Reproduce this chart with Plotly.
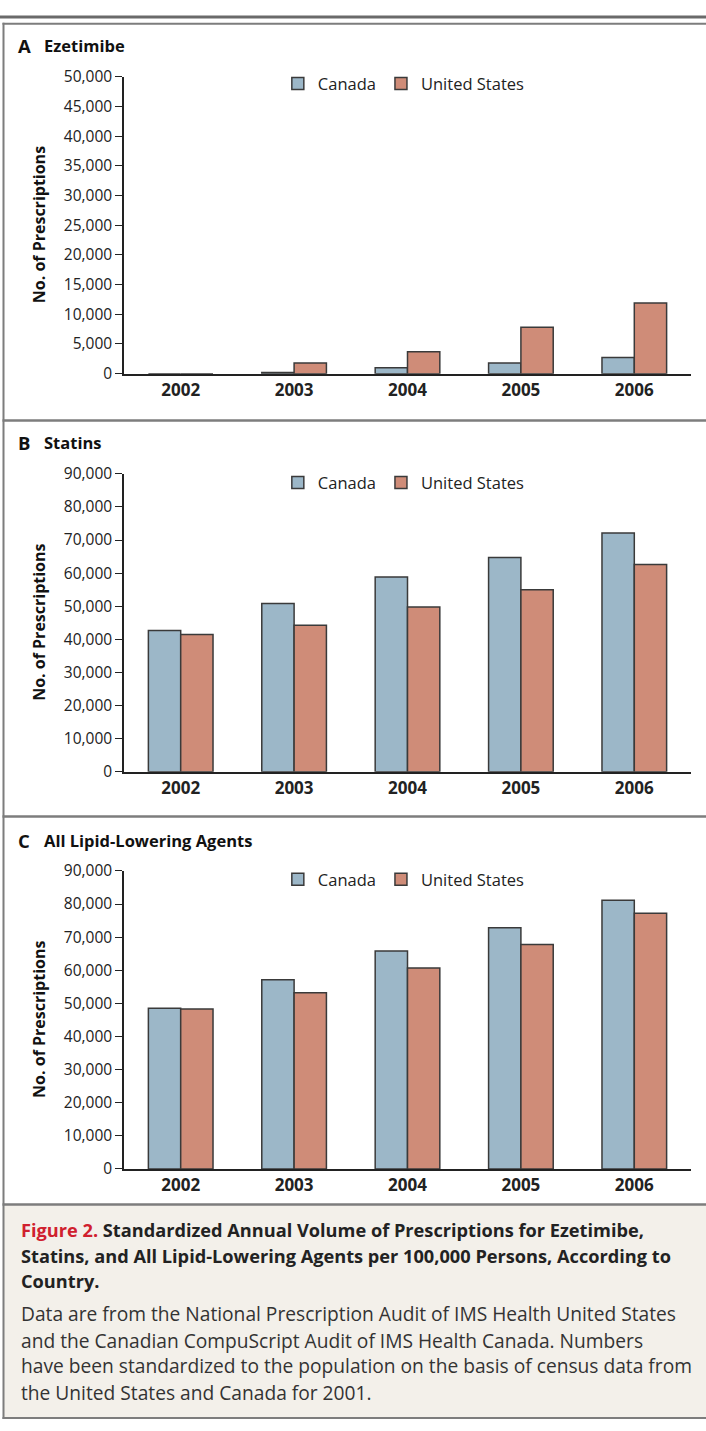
import plotly.graph_objects as go

W, H = 706, 1431

years = ["2002", "2003", "2004", "2005", "2006"]
series_names = ["Canada", "United States"]

eze_canada = [0, 200, 1000, 1800, 2700]
eze_us = [0, 1800, 3700, 7800, 11900]
statin_canada = [42700, 50800, 58800, 64700, 72100]
statin_us = [41500, 44300, 49800, 55000, 62600]
all_canada = [48500, 57100, 65800, 72800, 81100]
all_us = [48300, 53200, 60700, 67800, 77200]

panel_letters = ["A", "B", "C"]
panel_titles = ["Ezetimibe", "Statins", "All Lipid-Lowering Agents"]
y_max = [50000, 90000, 90000]
y_step = [5000, 10000, 10000]
y_title = "No. of Prescriptions"

caption_head = [
    "<span style='color:#d0202e'>Figure 2.</span> Standardized Annual Volume of Prescriptions for Ezetimibe,",
    "Statins, and All Lipid-Lowering Agents per 100,000 Persons, According to",
    "Country.",
]
caption_body = [
    "Data are from the National Prescription Audit of IMS Health United States",
    "and the Canadian CompuScript Audit of IMS Health Canada. Numbers",
    "have been standardized to the population on the basis of census data from",
    "the United States and Canada for 2001.",
]

FONT = "Open Sans"
C_CAN = "#9cb7c8"
C_US = "#cf8c78"
EDGE = "#3a3a3a"
AX = "#222222"


def px(x):
    return x / W


def py(y):
    return 1 - y / H


plot_rows = [(65.8, 367.3), (469.0, 771.7), (872.3, 1175.0)]
x_left, x_right = 124, 691
title_y = [34, 437, 841]
legend_y = [73, 478, 881]

fig = go.Figure()
data = [(eze_canada, eze_us), (statin_canada, statin_us), (all_canada, all_us)]
legend_names = ["legend", "legend2", "legend3"]

for i, (can, us) in enumerate(data):
    xa = "x" if i == 0 else f"x{i+1}"
    ya = "y" if i == 0 else f"y{i+1}"
    for name, vals, col in [(series_names[0], can, C_CAN), (series_names[1], us, C_US)]:
        fig.add_trace(go.Bar(
            x=years, y=vals, name=name, xaxis=xa, yaxis=ya,
            marker=dict(color=col, line=dict(color=EDGE, width=1.5)),
            legend=legend_names[i], showlegend=True,
        ))

layout = dict(
    autosize=True,
    margin=dict(l=0, r=0, t=0, b=0),
    paper_bgcolor="white", plot_bgcolor="rgba(0,0,0,0)",
    barmode="group", bargap=0.43, bargroupgap=0,
    font=dict(family=FONT, color=AX, size=15),
)

for i in range(3):
    top, bot = plot_rows[i]
    xk = "xaxis" if i == 0 else f"xaxis{i+1}"
    yk = "yaxis" if i == 0 else f"yaxis{i+1}"
    ya = "y" if i == 0 else f"y{i+1}"
    xa = "x" if i == 0 else f"x{i+1}"
    layout[xk] = dict(
        domain=[px(x_left), px(x_right)], anchor=ya, type="category",
        showline=True, linecolor=AX, linewidth=1.5, ticks="",
        showgrid=False, zeroline=False,
        tickfont=dict(family=FONT, size=17, color=AX, weight="bold"),
    )
    layout[yk] = dict(
        domain=[py(bot), py(top)], anchor=xa,
        range=[0, y_max[i]], dtick=y_step[i], tick0=0, tickformat=",",
        showline=True, linecolor=AX, linewidth=1.5,
        ticks="outside", ticklen=7, tickwidth=1.2, tickcolor=AX,
        showgrid=False, zeroline=False,
        tickfont=dict(family=FONT, size=15.5, color=AX),
    )
    lk = legend_names[i]
    layout[lk] = dict(
        orientation="h", x=0.572, xanchor="center",
        y=py(legend_y[i]), yanchor="middle",
        font=dict(family=FONT, size=16.5, color=AX),
        bgcolor="rgba(0,0,0,0)", itemclick=False, itemdoubleclick=False,
        traceorder="normal",
    )

fig.update_layout(**layout)

annotations = []
for i in range(3):
    top, bot = plot_rows[i]
    annotations.append(dict(
        text=f"<b>{panel_letters[i]}</b>", x=px(16), y=py(title_y[i]),
        xref="paper", yref="paper", xanchor="left", yanchor="middle",
        showarrow=False, font=dict(family=FONT, size=18.5, color="#111")))
    annotations.append(dict(
        text=f"<b>{panel_titles[i]}</b>", x=px(42), y=py(title_y[i]),
        xref="paper", yref="paper", xanchor="left", yanchor="middle",
        showarrow=False, font=dict(family=FONT, size=16.5, color="#111")))
    annotations.append(dict(
        text=f"<b>{y_title}</b>", x=px(39), y=py((top + bot) / 2),
        xref="paper", yref="paper", xanchor="center", yanchor="middle",
        textangle=-90, showarrow=False,
        font=dict(family=FONT, size=16, color="#111")))

head_y = [1237, 1263, 1289]
body_y = [1322, 1349, 1375, 1402]
for t, yy in zip(caption_head, head_y):
    annotations.append(dict(
        text=f"<b>{t}</b>", x=px(19), y=py(yy), xref="paper", yref="paper",
        xanchor="left", yanchor="middle", showarrow=False,
        font=dict(family=FONT, size=18.2, color="#222")))
for t, yy in zip(caption_body, body_y):
    annotations.append(dict(
        text=t, x=px(19), y=py(yy), xref="paper", yref="paper",
        xanchor="left", yanchor="middle", showarrow=False,
        font=dict(family=FONT, size=19.2, color="#333")))

fig.update_layout(annotations=annotations)

GRAY = "#7d7d7d"
shapes = [
    dict(type="rect", xref="paper", yref="paper", x0=px(4), x1=1, y0=py(1428), y1=py(1211),
         fillcolor="#f3f0ea", line=dict(width=0), layer="below"),
    dict(type="line", xref="paper", yref="paper", x0=0, x1=1, y0=py(5), y1=py(5),
         line=dict(color="#6a6a6a", width=3)),
    dict(type="line", xref="paper", yref="paper", x0=px(2.5), x1=1, y0=py(12), y1=py(12),
         line=dict(color=GRAY, width=2)),
    dict(type="line", xref="paper", yref="paper", x0=px(3.5), x1=px(3.5), y0=py(11), y1=py(1429),
         line=dict(color=GRAY, width=2)),
]
for yy in [415, 817, 1211]:
    shapes.append(dict(type="line", xref="paper", yref="paper", x0=px(2.5), x1=1,
                       y0=py(yy), y1=py(yy), line=dict(color=GRAY, width=2.5)))
shapes.append(dict(type="line", xref="paper", yref="paper", x0=px(2.5), x1=1,
                   y0=py(1428), y1=py(1428), line=dict(color=GRAY, width=2)))
fig.update_layout(shapes=shapes)

# The graph div is pinned to the page's top-left corner so the body's default
# 8px margin does not offset or enlarge the page.
fig.write_html(
    "out.html",
    default_width="%dpx" % W,
    default_height="%dpx;position:absolute;top:0;left:0" % H,
)
